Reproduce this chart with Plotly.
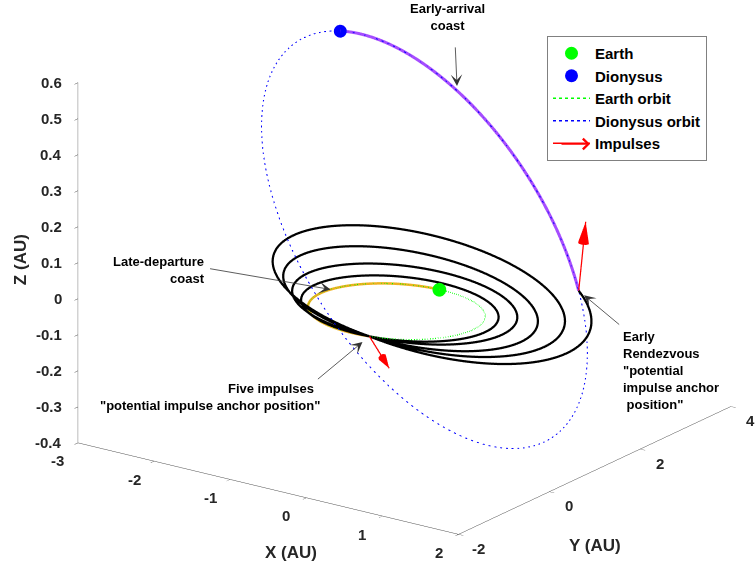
import numpy as np
import plotly.graph_objects as go

# ---------------- data ----------------
# orbital elements [a (AU), e, i (deg), Omega (deg), omega (deg)]
earth_elements = [1.0, 0.0167, 0.0, 0.0, 102.9]
dionysus_elements = [2.194, 0.5425, 13.55, 82.1, 204.2]

# true anomalies (deg) of the key epochs
earth_nu_start = -11.0       # Earth marker: start of late-departure coast
earth_nu_depart = 180.0      # departure impulse anchor
dionysus_nu_arrive = 149.5   # early rendezvous
dionysus_nu_final = 208.0    # Dionysus marker: end of early-arrival coast

# revolution loops (perihelion at the anchor)
loop_aphelion = [1.22, 1.58, 2.01, 2.62]     # AU
loop_inclination = [0.5, 1.0, 2.0, 2.6]      # deg
loop_node = 103.0                            # ascending node (deg)

# impulse vectors (display scale, AU)
impulse_depart = [0.43, -0.285, -0.05]
impulse_arrive = [-0.216, 0.517, 0.15]

x_ticks = [-3, -2, -1, 0, 1, 2]
y_ticks = [-2, 0, 2, 4]
z_ticks = [-0.4, -0.3, -0.2, -0.1, 0, 0.1, 0.2, 0.3, 0.4, 0.5, 0.6]
x_range = [-3, 2]
y_range = [-2, 4]
z_range = [-0.4, 0.6]


# ---------------- geometry helpers ----------------
def kepler_xyz(el, nu_deg):
    a, e, inc, Om, om = el
    nu = np.radians(np.asarray(nu_deg, dtype=float))
    p = a * (1 - e ** 2)
    r = p / (1 + e * np.cos(nu))
    u = np.radians(om) + nu
    i = np.radians(inc)
    O = np.radians(Om)
    x = r * (np.cos(O) * np.cos(u) - np.sin(O) * np.sin(u) * np.cos(i))
    y = r * (np.sin(O) * np.cos(u) + np.cos(O) * np.sin(u) * np.cos(i))
    z = r * np.sin(u) * np.sin(i)
    return x, y, z


full = np.linspace(0, 360, 721)
ex, ey, ez = kepler_xyz(earth_elements, full)
dx_, dy_, dz_ = kepler_xyz(dionysus_elements, full)

earth_pos = kepler_xyz(earth_elements, earth_nu_start)
dion_pos = kepler_xyz(dionysus_elements, dionysus_nu_final)
anchor = np.array(kepler_xyz(earth_elements, earth_nu_depart), dtype=float)
rendez = np.array(kepler_xyz(dionysus_elements, dionysus_nu_arrive), dtype=float)

# coasts
ldc = kepler_xyz(earth_elements, np.linspace(earth_nu_start, earth_nu_depart, 200))
eac = kepler_xyz(dionysus_elements, np.linspace(dionysus_nu_arrive, dionysus_nu_final, 200))

# loops
rp = float(np.linalg.norm(anchor))
loops = []
for ra, inc in zip(loop_aphelion, loop_inclination):
    a = (rp + ra) / 2
    e = (ra - rp) / (ra + rp)
    loops.append(kepler_xyz([a, e, inc, loop_node, 180.0], full))

# final arc: conic with perihelion at anchor through rendezvous
r1, r2 = np.linalg.norm(anchor), np.linalg.norm(rendez)
e1 = anchor / r1
n = np.cross(anchor, rendez)
n /= np.linalg.norm(n)
e2 = np.cross(n, e1)
dtheta = np.arccos(np.dot(anchor, rendez) / (r1 * r2))
ef = (r2 - r1) / (r1 - r2 * np.cos(dtheta))
pf = r1 * (1 + ef)
th = np.linspace(0, dtheta, 300)
rf = pf / (1 + ef * np.cos(th))
final_arc = [rf * (np.cos(th) * e1[k] + np.sin(th) * e2[k]) for k in range(3)]

# ---------------- figure ----------------
fig = go.Figure()
FONT = "Arial, Liberation Sans, sans-serif"
TXT = "#262626"

# legend entries (2D proxies so legend symbols keep their own sizes)
fig.add_trace(go.Scatter(x=[None], y=[None], mode="markers", name="Earth",
                         marker=dict(size=13, color="#00ff00")))
fig.add_trace(go.Scatter(x=[None], y=[None], mode="markers", name="Dionysus",
                         marker=dict(size=13, color="#0000ff")))
fig.add_trace(go.Scatter(x=[None], y=[None], mode="lines", name="Earth orbit",
                         line=dict(color="#00ff00", width=1.5, dash="dot")))
fig.add_trace(go.Scatter(x=[None], y=[None], mode="lines", name="Dionysus orbit",
                         line=dict(color="#0000ff", width=1.5, dash="dot")))
fig.add_trace(go.Scatter(x=[None], y=[None], mode="lines", name="Impulses",
                         line=dict(color="#ff0000", width=1.5)))

fig.add_trace(go.Scatter3d(x=[earth_pos[0]], y=[earth_pos[1]], z=[earth_pos[2]], mode="markers",
                           marker=dict(size=8, color="#00ff00"), name="Earth", showlegend=False))
fig.add_trace(go.Scatter3d(x=[dion_pos[0]], y=[dion_pos[1]], z=[dion_pos[2]], mode="markers",
                           marker=dict(size=7.5, color="#0000ff"), name="Dionysus", showlegend=False))

fig.add_trace(go.Scatter3d(x=ex, y=ey, z=ez, mode="lines", showlegend=False, name="Earth orbit",
                           line=dict(color="#00ff00", width=2.5, dash="dot")))
fig.add_trace(go.Scatter3d(x=dx_, y=dy_, z=dz_, mode="lines", showlegend=False, name="Dionysus orbit",
                           line=dict(color="#0000ff", width=2, dash="dot")))

fig.add_trace(go.Scatter3d(x=ldc[0], y=ldc[1], z=ldc[2], mode="lines",
                           line=dict(color="#EDB120", width=5), showlegend=False, hoverinfo="skip"))
fig.add_trace(go.Scatter3d(x=eac[0], y=eac[1], z=eac[2], mode="lines",
                           line=dict(color="#a64dff", width=6), showlegend=False, hoverinfo="skip"))

vecs = [(anchor, np.array(impulse_depart)), (rendez, np.array(impulse_arrive))]
for k, (s, v) in enumerate(vecs):
    t = s + v
    fig.add_trace(go.Scatter3d(x=[s[0], t[0]], y=[s[1], t[1]], z=[s[2], t[2]], mode="lines",
                               line=dict(color="#ff0000", width=2.5), name="Impulses",
                               showlegend=False, hoverinfo="skip"))
    fig.add_trace(go.Cone(x=[t[0]], y=[t[1]], z=[t[2]], u=[v[0]], v=[v[1]], w=[v[2]],
                          anchor="tip", sizemode="absolute", sizeref=0.18,
                          colorscale=[[0, "#ff0000"], [1, "#ff0000"]], showscale=False,
                          lighting=dict(ambient=1, diffuse=0, specular=0, fresnel=0, roughness=1),
                          hoverinfo="skip", showlegend=False))

for lx, ly, lz in loops:
    fig.add_trace(go.Scatter3d(x=lx, y=ly, z=lz, mode="lines", line=dict(color="black", width=4.5),
                               showlegend=False, hoverinfo="skip"))
fig.add_trace(go.Scatter3d(x=final_arc[0], y=final_arc[1], z=final_arc[2], mode="lines",
                           line=dict(color="black", width=4.5), showlegend=False, hoverinfo="skip"))


def ax(rng, tv):
    return dict(title=dict(text=""), range=rng, tickvals=tv, showticklabels=False,
                showbackground=False, showgrid=False, zeroline=False, showline=True,
                linecolor="#4d4d4d", linewidth=1, ticks="outside", tickcolor="#4d4d4d",
                ticklen=6, showspikes=False, autorange=False)


tick_font = dict(family=FONT, size=15, color=TXT, weight="bold")
title_font = dict(family=FONT, size=17, color=TXT, weight="bold")
ann3d = []
for v in x_ticks:
    ann3d.append(dict(x=v, y=y_range[0], z=z_range[0], text=f"{v:g}", showarrow=False,
                      xshift=-20, yshift=-18, font=tick_font))
for v in y_ticks:
    ann3d.append(dict(x=x_range[1], y=v, z=z_range[0], text=f"{v:g}", showarrow=False,
                      xshift=20, yshift=-14, font=tick_font))
for v in z_ticks:
    ann3d.append(dict(x=x_range[0], y=y_range[0], z=v, text=f"{v:g}", showarrow=False,
                      xanchor="right", xshift=-14, font=tick_font))
ann3d.append(dict(x=-0.2, y=y_range[0], z=z_range[0], text="X (AU)", showarrow=False,
                  yshift=-58, font=title_font))
ann3d.append(dict(x=x_range[1], y=1.0, z=z_range[0], text="Y (AU)", showarrow=False,
                  yshift=-75, font=title_font))
ann3d.append(dict(x=x_range[0], y=y_range[0], z=0.11, text="Z (AU)", showarrow=False,
                  xshift=-58, textangle=-90, font=title_font))

arrow_style = dict(text="", showarrow=True, arrowhead=3, arrowsize=2.4, arrowwidth=0.8,
                   arrowcolor="#333333")
p_coast = kepler_xyz(dionysus_elements, 183.5)
p_ldc = kepler_xyz(earth_elements, 67.0)
ann3d.append(dict(x=p_coast[0], y=p_coast[1], z=p_coast[2], ax=-2, ay=-45, standoff=5, **arrow_style))
ann3d.append(dict(x=p_ldc[0], y=p_ldc[1], z=p_ldc[2], ax=-122, ay=-21, standoff=0, **arrow_style))
ann3d.append(dict(x=anchor[0], y=anchor[1], z=anchor[2], ax=-53, ay=44, standoff=9, **arrow_style))
ann3d.append(dict(x=rendez[0], y=rendez[1], z=rendez[2], ax=42, ay=35, standoff=7, **arrow_style))

W, H = 755, 569
lab_font = dict(family=FONT, size=13, color="black", weight="bold")


def lab(text, px, py, xanchor="center", align="center"):
    return dict(text=text, x=px / W, y=1 - py / H, xref="paper", yref="paper",
                showarrow=False, xanchor=xanchor, yanchor="middle", align=align, font=lab_font)


annotations = [
    lab("Early-arrival<br>coast", 447, 17),
    lab("Late-departure<br>coast", 207, 270, xanchor="right", align="right"),
    lab("Five impulses", 271, 388),
    lab("\"potential impulse anchor position\"", 210, 405),
    lab("Early<br>Rendezvous<br>\"potential<br>impulse anchor<br> position\"", 621, 370,
        xanchor="left", align="left"),
    # arrowhead for the "Impulses" legend sample
    dict(text="", x=590 / W, y=1 - 144 / H, xref="paper", yref="paper",
         showarrow=True, ax=-30, ay=0, arrowhead=4, arrowsize=1.4, arrowwidth=1.5,
         arrowcolor="#ff0000"),
]

K = 1.645
dcx, dcy, dcz = -0.0493, -0.0937, -0.132
fig.update_layout(
    width=W, height=H, margin=dict(l=0, r=0, t=0, b=0),
    paper_bgcolor="white", plot_bgcolor="white",
    xaxis=dict(visible=False), yaxis=dict(visible=False),
    scene=dict(
        domain=dict(x=[0, 1], y=[0, 1]),
        xaxis=ax(x_range, x_ticks),
        yaxis=ax(y_range, y_ticks),
        zaxis=ax(z_range, z_ticks),
        aspectmode="manual", aspectratio=dict(x=1.0 * K, y=1.0 * K, z=0.8 * 1.68),
        camera=dict(eye=dict(x=0.548 * 2 + dcx, y=-0.766 * 2 + dcy, z=0.336 * 2 + dcz),
                    up=dict(x=0, y=0, z=1), center=dict(x=dcx, y=dcy, z=dcz),
                    projection=dict(type="orthographic")),
        annotations=ann3d,
    ),
    annotations=annotations,
    legend=dict(x=547 / W, y=1 - 36 / H, xanchor="left", yanchor="top",
                bgcolor="white", bordercolor="#808080", borderwidth=1, itemwidth=37,
                tracegroupgap=0,
                font=dict(family=FONT, size=15, color="black", weight="bold")),
    font=dict(family=FONT),
)

fig.write_html("out.html", config={"displayModeBar": False},
               post_script="document.body.style.margin='0px';")
